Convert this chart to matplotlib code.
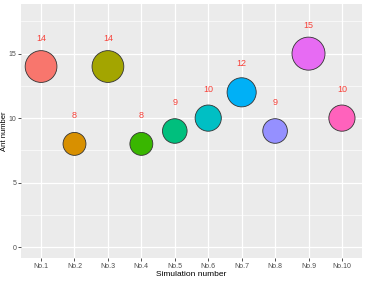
import matplotlib.pyplot as plt
import numpy as np

plt.rcParams.update({
    "font.family": ["Liberation Sans", "DejaVu Sans"],
})

# data
SIMS = ["No.1", "No.2", "No.3", "No.4", "No.5", "No.6", "No.7", "No.8", "No.9", "No.10"]
ANTS = [14, 8, 14, 8, 9, 10, 12, 9, 15, 10]
COLORS = ["#F8766D", "#D89000", "#A3A500", "#39B600", "#00BF7D",
          "#00BFC4", "#00B0F6", "#9590FF", "#E76BF3", "#FF62BC"]
Y_TICKS = [0, 5, 10, 15]


def main() -> None:
    fig = plt.figure(figsize=(3.67, 2.84), dpi=100)
    ax = fig.add_axes([21 / 367, 26 / 284, 341 / 367, 254 / 284])
    ax.set_facecolor("#EBEBEB")

    vals = np.array(ANTS, dtype=float)
    x = np.arange(1, len(SIMS) + 1)
    # size scale: area linear in value (like ggplot scale_size)
    s_min, s_max = 272, 565
    sizes = s_min + (vals - vals.min()) / (vals.max() - vals.min()) * (s_max - s_min)
    ax.scatter(x, vals, s=sizes, c=COLORS, edgecolors="#333333",
               linewidths=0.6, zorder=3)
    for xi, v in zip(x, vals):
        ax.text(xi, v + 2.2, f"{int(v)}", color="#F8423A", fontsize=6.5,
                ha="center", va="center", zorder=4)

    ax.set_xlim(0.4, len(SIMS) + 0.6)
    ax.set_ylim(-0.85, 18.85)
    ax.set_xticks(x)
    ax.set_xticklabels(SIMS)
    ax.set_yticks(Y_TICKS)
    ax.set_yticks([2.5, 7.5, 12.5, 17.5], minor=True)

    ax.grid(which="major", color="white", lw=0.9, zorder=0)
    ax.grid(which="minor", axis="y", color="white", lw=0.45, zorder=0)
    ax.set_axisbelow(True)
    for sp in ax.spines.values():
        sp.set_visible(False)
    ax.tick_params(which="major", length=2, width=0.6, color="#333333",
                   labelsize=5, labelcolor="#4D4D4D", pad=1.5)
    ax.tick_params(which="minor", length=0)

    ax.set_xlabel("Simulation number", fontsize=6, labelpad=1)
    ax.set_ylabel("Ant number", fontsize=5.5)
    ax.yaxis.set_label_coords(-0.038, 0.5)

    fig.savefig("out.png", dpi=100)


if __name__ == "__main__":
    main()
